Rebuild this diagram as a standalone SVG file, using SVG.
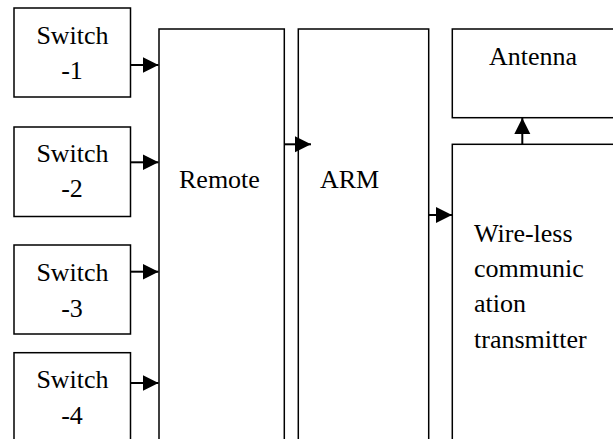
<svg xmlns="http://www.w3.org/2000/svg" width="613" height="439" viewBox="0 0 613 439">
<defs>
<marker id="ah" markerUnits="userSpaceOnUse" markerWidth="17" markerHeight="17" viewBox="0 0 17 17" refX="16" refY="8.5" orient="auto">
<path d="M0,0.5 L16,8.5 L0,16.5 Z" fill="#000"/>
</marker>
</defs>
<rect width="613" height="439" fill="#fff"/>
<g fill="#fff" stroke="#000" stroke-width="1.5">
<g id="switch1"><rect x="14" y="8" width="116.5" height="89"/></g>
<g id="switch2"><rect x="14" y="127" width="116.5" height="89.5"/></g>
<g id="switch3"><rect x="14" y="245" width="116.5" height="89"/></g>
<g id="switch4"><rect x="14" y="352.7" width="116.5" height="100"/></g>
<g id="remote"><rect x="159" y="29" width="125.3" height="430"/></g>
<g id="arm"><rect x="298.3" y="29" width="130.4" height="430"/></g>
<g id="antenna"><rect x="452.3" y="29" width="180" height="88.7"/></g>
<g id="transmitter"><rect x="452.3" y="144.3" width="180" height="320"/></g>
</g>
<g id="labels" font-family="Liberation Serif" font-size="26" fill="#000">
<text text-anchor="middle" x="72.5" y="44">Switch</text><text text-anchor="middle" x="72" y="79">-1</text>
<text text-anchor="middle" x="72.5" y="162">Switch</text><text text-anchor="middle" x="72" y="197">-2</text>
<text text-anchor="middle" x="72.5" y="281">Switch</text><text text-anchor="middle" x="72" y="316.5">-3</text>
<text text-anchor="middle" x="72.5" y="388">Switch</text><text text-anchor="middle" x="72" y="423.5">-4</text>
<text x="179" y="188.3">Remote</text>
<text x="320" y="188.3">ARM</text>
<text x="489" y="65">Antenna</text>
<text x="474" y="241.7">Wire-less</text><text x="474" y="276.7">communic</text><text x="474" y="311.7">ation</text><text x="474" y="347.7">transmitter</text>
</g>
<g id="connectors" stroke="#000" stroke-width="2" fill="none" marker-end="url(#ah)">
<line x1="130.5" y1="65" x2="158.5" y2="65"/>
<line x1="130.5" y1="162.3" x2="158.5" y2="162.3"/>
<line x1="130.5" y1="271.7" x2="158.5" y2="271.7"/>
<line x1="130.5" y1="383" x2="158.5" y2="383"/>
<line x1="284.3" y1="144.3" x2="311" y2="144.3"/>
<line x1="428.7" y1="215" x2="452" y2="215"/>
<line x1="522.3" y1="144.3" x2="522.3" y2="118"/>
</g>
</svg>
